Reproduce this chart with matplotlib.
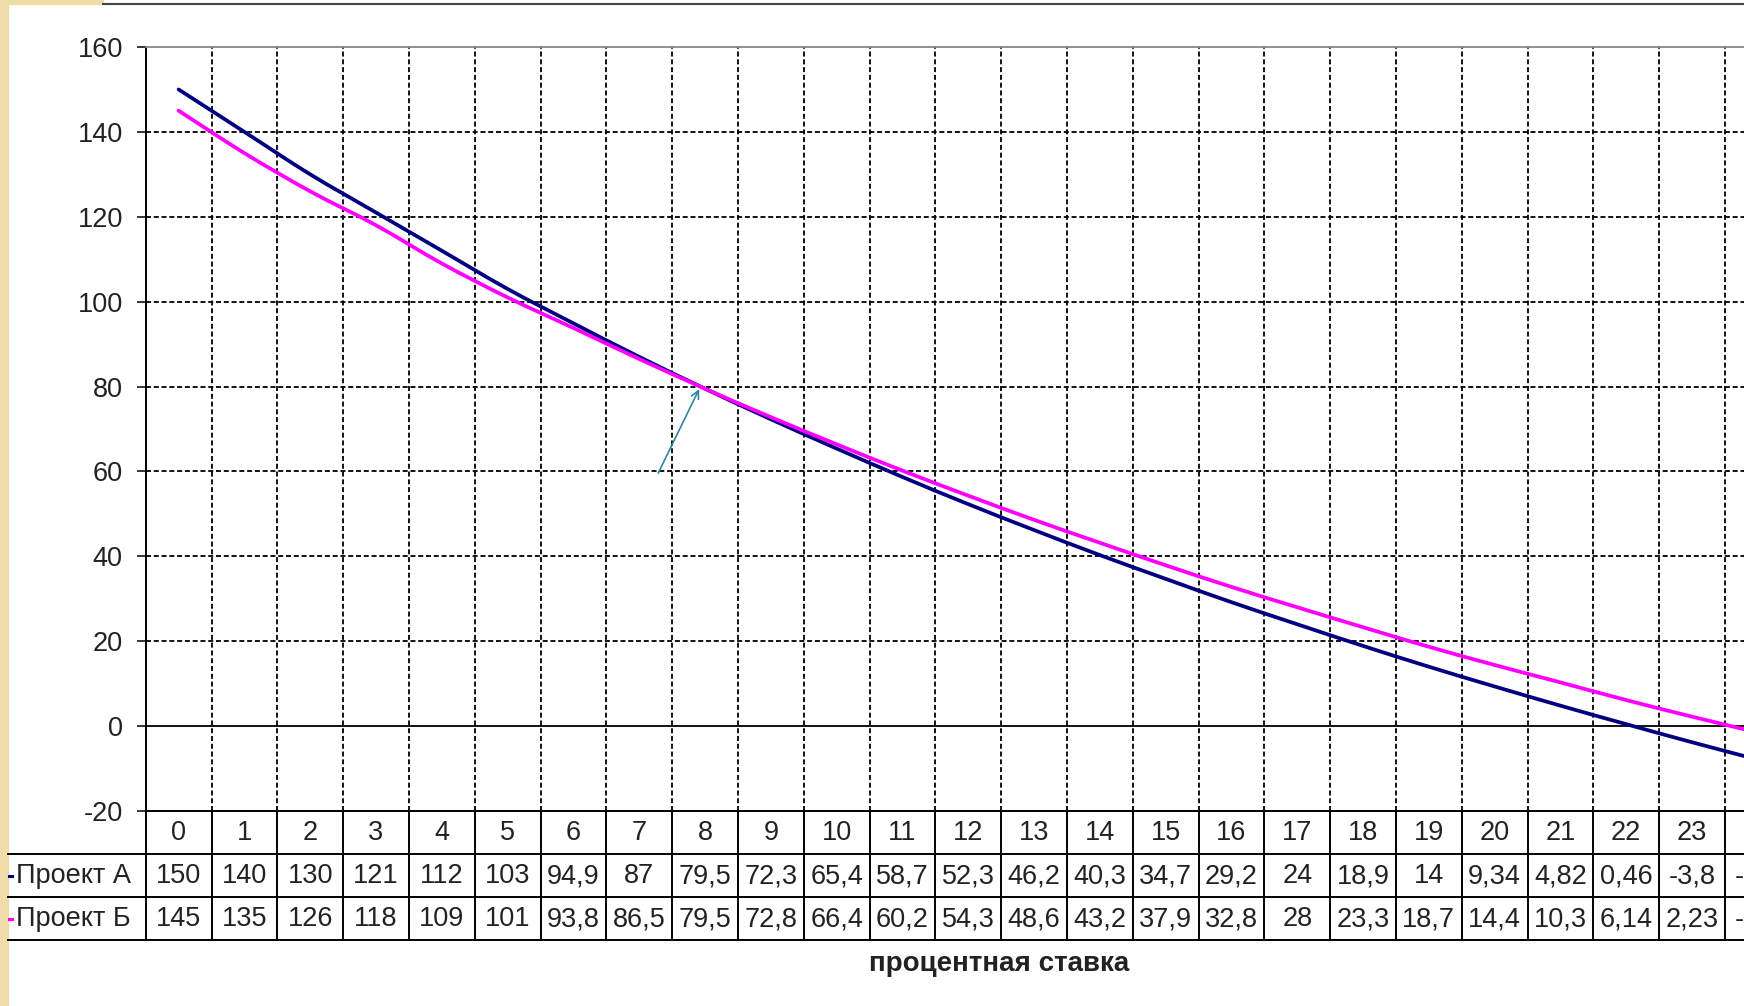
import matplotlib
matplotlib.use('Agg')
import matplotlib.pyplot as plt
from matplotlib.patches import Rectangle, PathPatch
from matplotlib.path import Path
from matplotlib.lines import Line2D

plt.rcParams['font.family'] = ['Liberation Sans', 'DejaVu Sans']
plt.rcParams['lines.scale_dashes'] = False
plt.rcParams['axes.unicode_minus'] = False

# NPV of the two projects by interest rate (%)
rates = list(range(25))
npv_a = [150, 140, 130, 121, 112, 103, 94.9, 87, 79.5, 72.3, 65.4, 58.7, 52.3,
         46.2, 40.3, 34.7, 29.2, 24, 18.9, 14, 9.34, 4.82, 0.46, -3.8, -7.9]
npv_b = [145, 135, 126, 118, 109, 101, 93.8, 86.5, 79.5, 72.8, 66.4, 60.2, 54.3,
         48.6, 43.2, 37.9, 32.8, 28, 23.3, 18.7, 14.4, 10.3, 6.14, 2.23, -1.5]
series_names = ['Проект А', 'Проект Б']
series_colors = ['#000080', '#FF00FF']
y_ticks = list(range(-20, 161, 20))
x_title = 'процентная ставка'

W, H = 1744, 1006
FS = 19.5
TXT = '#222222'
fig = plt.figure(figsize=(W / 100, H / 100), dpi=100)


def box(x0, y0, x1, y1):
    # pixel box, origin top-left -> figure fraction rect
    return [x0 / W, 1 - y1 / H, (x1 - x0) / W, (y1 - y0) / H]


def smooth_path(xs, ys):
    # Bezier segments through every point, like Excel's "smoothed line"
    verts = [(xs[0], ys[0])]
    codes = [Path.MOVETO]
    n = len(xs)
    for i in range(n - 1):
        x0, y0 = xs[max(i - 1, 0)], ys[max(i - 1, 0)]
        x1, y1 = xs[i], ys[i]
        x2, y2 = xs[i + 1], ys[i + 1]
        x3, y3 = xs[min(i + 2, n - 1)], ys[min(i + 2, n - 1)]
        verts += [(x1 + (x2 - x0) / 6, y1 + (y2 - y0) / 6),
                  (x2 - (x3 - x1) / 6, y2 - (y3 - y1) / 6),
                  (x2, y2)]
        codes += [Path.CURVE4] * 3
    return Path(verts, codes)


col_w = 65.8
left = 145.7
right = left + col_w * len(rates)

ax = fig.add_axes(box(left, 47, right, 811))
ax.set_xlim(-0.5, len(rates) - 0.5)
ax.set_ylim(-20, 160)

dash = (0, (3.6, 2.0))
for y in y_ticks:
    if -20 < y < 160 and y != 0:
        ax.axhline(y, color='k', lw=1.3, ls=dash, zorder=1)
ax.axhline(0, color='k', lw=1.3, zorder=2)
for k in rates[:-1]:
    ax.axvline(k + 0.5, color='k', lw=1.3, ls=dash, zorder=1)

for vals, c in zip([npv_a, npv_b], series_colors):
    ax.add_patch(PathPatch(smooth_path(rates, vals), facecolor='none',
                           edgecolor=c, lw=2.7, capstyle='round', zorder=4))

ax.annotate('', xy=(7.93, 80), xytext=(7.27, 59),
            arrowprops=dict(arrowstyle='->', color='#2E86A0', lw=1.2,
                            mutation_scale=14), zorder=5)

ax.spines['right'].set_visible(False)
ax.spines['left'].set_linewidth(1.4)
ax.spines['bottom'].set_linewidth(1.4)
ax.spines['top'].set_color('#888888')
ax.spines['top'].set_linewidth(1.3)
ax.set_xticks([])
ax.set_yticks(y_ticks)
ax.tick_params(axis='y', direction='out', length=6.5, width=1.1, pad=10,
               labelsize=FS, labelcolor=TXT)

# data table under the plot
tab = fig.add_axes(box(left, 811, right, 940))
tab.set_xlim(-0.5, len(rates) - 0.5)
tab.set_ylim(3, 0)
tab.axis('off')

label_x = (8 - left) / col_w - 0.5
for r in (1, 2, 3):
    tab.plot([label_x, len(rates) - 0.5], [r, r], color='k', lw=1.4, clip_on=False)
tab.plot([-0.5, -0.5], [0, 3], color='k', lw=1.4, clip_on=False)
for k in rates:
    tab.plot([k + 0.5] * 2, [0, 3], color='k', lw=1.4, clip_on=False)


def fmt(v):
    return f'{v:.3g}'.replace('.', ',')


for i in rates:
    tab.text(i, 0.52, str(i), ha='center', va='center', fontsize=FS, color=TXT)
    tab.text(i, 1.52, fmt(npv_a[i]), ha='center', va='center', fontsize=FS, color=TXT)
    tab.text(i, 2.52, fmt(npv_b[i]), ha='center', va='center', fontsize=FS, color=TXT)

for row, (name, c) in enumerate(zip(series_names, series_colors), start=1):
    tab.plot([label_x + 0.02, label_x + 0.06], [row + 0.52] * 2, color=c,
             lw=2.2, clip_on=False)
    tab.text(label_x + 0.125, row + 0.52, name, ha='left', va='center',
             fontsize=FS, color=TXT)

fig.text(999 / W, 1 - 964 / H, x_title, ha='center', va='center', fontsize=20,
         fontweight='bold', color=TXT)

# slide border decoration
tan = '#EFDCA9'
fig.add_artist(Rectangle((0, 0), 8 / W, 1, transform=fig.transFigure,
                         color=tan, zorder=0))
fig.add_artist(Rectangle((0, 1 - 3.5 / H), 103 / W, 3.5 / H,
                         transform=fig.transFigure, color=tan, zorder=0))
fig.add_artist(Line2D([103 / W, 1], [1 - 3.5 / H] * 2, color='#444444', lw=1.5,
                      transform=fig.transFigure))

fig.savefig('out.png', dpi=100)
